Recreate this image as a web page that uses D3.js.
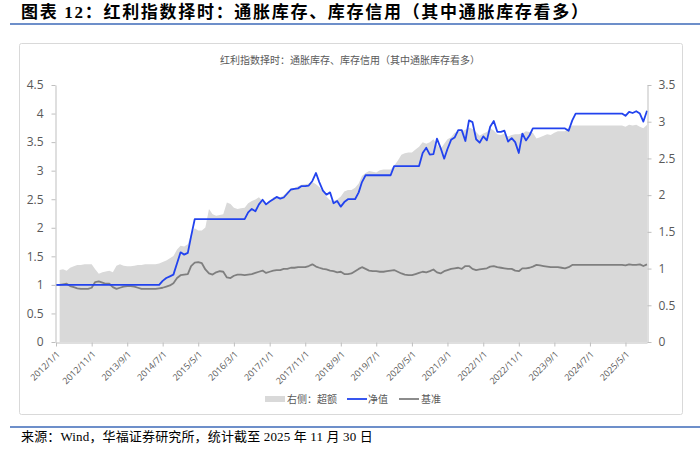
<!DOCTYPE html>
<html>
<head>
<meta charset="utf-8">
<script src="https://cdn.jsdelivr.net/npm/d3@7"></script>
<style>
  html, body { margin: 0; padding: 0; background: #fff; }
  svg { display: block; }
</style>
</head>
<body>
<div id="chart"></div>
<script>
const width = 700;
const height = 456;

const titleText = "图表 12：红利指数择时：通胀库存、库存信用（其中通胀库存看多）";
const chartTitle = "红利指数择时：通胀库存、库存信用（其中通胀库存看多）";
const sourceText = "来源：Wind，华福证券研究所，统计截至 2025 年 11 月 30 日";
const seriesNames = ["右侧：超额", "净值", "基准"];

// monthly points, first one is 2012/1
const firstMonth = "2012-01-01";
const tickLabels = ["2012/1/1", "2012/11/1", "2013/9/1", "2014/7/1", "2015/5/1", "2016/3/1",
    "2017/1/1", "2017/11/1", "2018/9/1", "2019/7/1", "2020/5/1", "2021/3/1", "2022/1/1",
    "2022/11/1", "2023/9/1", "2024/7/1", "2025/5/1"];
const leftTicks = [0, 0.5, 1, 1.5, 2, 2.5, 3, 3.5, 4, 4.5];
const rightTicks = [0, 0.5, 1, 1.5, 2, 2.5, 3, 3.5];

// 净值 (left axis)
const netValue = [
    1.00, 1.00, 1.00, 1.00, 1.00, 1.00, 1.00, 1.00, 1.00, 1.00,
    1.00, 1.00, 1.00, 1.00, 1.00, 1.00, 1.00, 1.00, 1.00, 1.00,
    1.00, 1.00, 1.00, 1.00, 1.00, 1.00, 1.00, 1.00, 1.00, 1.00,
    1.07, 1.12, 1.15, 1.18, 1.38, 1.57, 1.53, 1.56, 1.85, 2.15,
    2.15, 2.15, 2.15, 2.15, 2.15, 2.15, 2.15, 2.15, 2.15, 2.15,
    2.15, 2.15, 2.15, 2.15, 2.27, 2.33, 2.29, 2.41, 2.49, 2.41,
    2.46, 2.50, 2.54, 2.51, 2.53, 2.60, 2.67, 2.68, 2.69, 2.73,
    2.73, 2.74, 2.82, 2.96, 2.80, 2.65, 2.58, 2.62, 2.43, 2.47,
    2.37, 2.45, 2.50, 2.50, 2.50, 2.62, 2.80, 2.92, 2.92, 2.92,
    2.92, 2.92, 2.92, 2.92, 2.92, 3.08, 3.08, 3.08, 3.08, 3.08,
    3.08, 3.08, 3.08, 3.31, 3.40, 3.28, 3.29, 3.56, 3.40, 3.21,
    3.38, 3.54, 3.58, 3.71, 3.71, 3.52, 3.88, 3.85, 3.55, 3.49,
    3.60, 3.53, 3.77, 3.87, 3.68, 3.68, 3.70, 3.51, 3.57, 3.50,
    3.31, 3.65, 3.53, 3.62, 3.74, 3.74, 3.74, 3.74, 3.74, 3.74,
    3.74, 3.74, 3.74, 3.74, 3.70, 3.88, 4.00, 4.00, 4.00, 4.00,
    4.00, 4.00, 4.00, 4.00, 4.00, 4.00, 4.00, 4.00, 4.00, 4.00,
    3.96, 4.03, 4.01, 4.04, 4.00, 3.86, 4.05
];

// 基准 (left axis)
const benchmark = [
    1.00, 1.00, 1.01, 1.02, 0.98, 0.96, 0.94, 0.93, 0.93, 0.93,
    0.95, 1.05, 1.06, 1.04, 1.02, 1.02, 0.96, 0.93, 0.95, 0.97,
    0.98, 0.98, 0.97, 0.95, 0.93, 0.93, 0.93, 0.93, 0.93, 0.94,
    0.95, 0.97, 0.99, 1.03, 1.12, 1.17, 1.18, 1.19, 1.33, 1.39,
    1.40, 1.38, 1.27, 1.20, 1.18, 1.22, 1.24, 1.23, 1.13, 1.12,
    1.16, 1.18, 1.18, 1.17, 1.18, 1.19, 1.21, 1.23, 1.25, 1.21,
    1.23, 1.25, 1.26, 1.26, 1.28, 1.28, 1.30, 1.30, 1.31, 1.31,
    1.31, 1.33, 1.36, 1.32, 1.30, 1.28, 1.27, 1.25, 1.24, 1.22,
    1.23, 1.19, 1.19, 1.20, 1.24, 1.28, 1.31, 1.28, 1.25, 1.24,
    1.24, 1.23, 1.23, 1.24, 1.25, 1.26, 1.23, 1.20, 1.18, 1.17,
    1.17, 1.19, 1.21, 1.23, 1.22, 1.24, 1.27, 1.22, 1.20, 1.24,
    1.26, 1.28, 1.29, 1.30, 1.28, 1.33, 1.33, 1.28, 1.26, 1.27,
    1.28, 1.29, 1.32, 1.33, 1.31, 1.30, 1.29, 1.28, 1.28, 1.25,
    1.24, 1.29, 1.29, 1.30, 1.32, 1.35, 1.34, 1.33, 1.32, 1.31,
    1.31, 1.31, 1.30, 1.29, 1.31, 1.35, 1.35, 1.35, 1.35, 1.35,
    1.35, 1.35, 1.35, 1.35, 1.35, 1.35, 1.35, 1.35, 1.35, 1.35,
    1.34, 1.36, 1.35, 1.35, 1.36, 1.33, 1.36
];

// 超额 (right axis), no value for the first month
const excess = [
    null, 0.98, 0.99, 0.97, 1.01, 1.03, 1.05, 1.05, 1.06, 1.06,
    1.06, 0.99, 0.93, 0.95, 0.96, 0.97, 0.95, 1.04, 1.06, 1.04,
    1.03, 1.03, 1.04, 1.05, 1.05, 1.06, 1.06, 1.06, 1.06, 1.07,
    1.09, 1.11, 1.14, 1.17, 1.26, 1.31, 1.30, 1.33, 1.47, 1.55,
    1.52, 1.52, 1.56, 1.81, 1.74, 1.72, 1.73, 1.74, 1.90, 1.88,
    1.83, 1.81, 1.82, 1.83, 1.89, 1.92, 1.94, 1.97, 1.92, 1.88,
    1.92, 1.97, 1.97, 1.97, 2.00, 2.05, 2.08, 2.10, 2.12, 2.14,
    2.15, 2.16, 2.18, 2.15, 2.11, 2.05, 1.98, 1.93, 1.92, 1.94,
    1.98, 2.05, 2.07, 2.07, 2.10, 2.16, 2.26, 2.30, 2.33, 2.32,
    2.31, 2.34, 2.35, 2.35, 2.35, 2.40, 2.47, 2.55, 2.57, 2.58,
    2.58, 2.62, 2.66, 2.72, 2.70, 2.72, 2.76, 2.69, 2.63, 2.70,
    2.76, 2.79, 2.85, 2.87, 2.87, 2.89, 2.92, 2.90, 2.86, 2.81,
    2.84, 2.86, 2.91, 2.88, 2.83, 2.82, 2.84, 2.80, 2.82, 2.83,
    2.83, 2.84, 2.87, 2.86, 2.85, 2.77, 2.79, 2.81, 2.83, 2.82,
    2.85, 2.87, 2.87, 2.87, 2.92, 2.95, 2.95, 2.95, 2.95, 2.95,
    2.95, 2.95, 2.95, 2.95, 2.95, 2.95, 2.95, 2.95, 2.95, 2.95,
    2.93, 2.96, 2.95, 2.96, 2.93, 2.91, 2.96
];

const colorArea = "#d9d9d9";
const colorNet = "#2243ee";
const colorBench = "#7f7f7f";
const colorText = "#595959";
const colorAxis = "#bfbfbf";
const colorRule = "#6d8fca";

const cjkSans = "'Noto Sans CJK SC', 'Noto Sans', sans-serif";
const cjkSerif = "'Liberation Serif', 'Noto Sans CJK SC', serif";

const start = d3.timeParse("%Y-%m-%d")(firstMonth);
const months = netValue.map((_, i) => d3.timeMonth.offset(start, i));
const tickDates = tickLabels.map(d3.timeParse("%Y/%-m/%-d"));

const x = d3.scaleTime()
    .domain([months[0], months[months.length - 1]])
    .range([56, 647]);
const yLeft = d3.scaleLinear().domain([0, 4.5]).range([342, 85]);
const yRight = d3.scaleLinear().domain([0, 3.5]).range([342, 85]);

const svg = d3.select("#chart")
    .append("svg")
    .attr("width", width)
    .attr("height", height)
    .attr("viewBox", [0, 0, width, height]);

// heading and source
svg.append("text")
    .attr("x", 21)
    .attr("y", 18)
    .attr("font-family", cjkSerif)
    .attr("font-weight", "bold")
    .attr("font-size", 17)
    .attr("letter-spacing", 1.7)
    .attr("fill", "#000")
    .text(titleText);

svg.append("line")
    .attr("x1", 10).attr("x2", width)
    .attr("y1", 24).attr("y2", 24)
    .attr("stroke", colorRule)
    .attr("stroke-width", 2);

svg.append("rect")
    .attr("x", 19.5).attr("y", 43.5)
    .attr("width", 663).attr("height", 371)
    .attr("rx", 2)
    .attr("fill", "#fff")
    .attr("stroke", "#d9d9d9");

svg.append("line")
    .attr("x1", 10).attr("x2", width)
    .attr("y1", 427).attr("y2", 427)
    .attr("stroke", colorRule)
    .attr("stroke-width", 2);

svg.append("text")
    .attr("x", 21)
    .attr("y", 441)
    .attr("font-family", cjkSerif)
    .attr("font-size", 13)
    .attr("letter-spacing", 0.15)
    .attr("fill", "#000")
    .text(sourceText);

svg.append("text")
    .attr("x", 350)
    .attr("y", 64)
    .attr("text-anchor", "middle")
    .attr("font-family", cjkSans)
    .attr("font-size", 10)
    .attr("fill", colorText)
    .text(chartTitle);

// plot
const area = d3.area()
    .defined(d => d != null)
    .x((d, i) => x(months[i]))
    .y0(yRight(0))
    .y1(d => yRight(d));

svg.append("path")
    .datum(excess)
    .attr("fill", colorArea)
    .attr("d", area);

const lineLeft = d3.line()
    .x((d, i) => x(months[i]))
    .y(d => yLeft(d));

svg.append("path")
    .datum(benchmark)
    .attr("fill", "none")
    .attr("stroke", colorBench)
    .attr("stroke-width", 1.8)
    .attr("stroke-linejoin", "round")
    .attr("d", lineLeft);

svg.append("path")
    .datum(netValue)
    .attr("fill", "none")
    .attr("stroke", colorNet)
    .attr("stroke-width", 1.8)
    .attr("stroke-linejoin", "round")
    .attr("d", lineLeft);

// axes
function styleAxis(g, size) {
    g.select(".domain").attr("stroke", colorAxis);
    g.selectAll(".tick line").attr("stroke", colorAxis);
    g.selectAll(".tick text")
        .attr("fill", colorText)
        .attr("font-family", "'Open Sans', 'Noto Sans', sans-serif")
        .attr("font-size", size);
}

svg.append("g")
    .attr("transform", "translate(55.5,0)")
    .call(d3.axisLeft(yLeft).tickValues(leftTicks).tickSize(4).tickSizeOuter(0).tickPadding(8).tickFormat(d => d))
    .call(g => styleAxis(g, 12));

svg.append("g")
    .attr("transform", "translate(647.5,0)")
    .call(d3.axisRight(yRight).tickValues(rightTicks).tickSize(4).tickSizeOuter(0).tickPadding(7).tickFormat(d => d))
    .call(g => styleAxis(g, 12));

svg.append("g")
    .attr("transform", "translate(0,342.5)")
    .call(d3.axisBottom(x).tickValues(tickDates).tickSize(4).tickSizeOuter(0).tickFormat(d3.timeFormat("%Y/%-m/%-d")))
    .call(g => styleAxis(g, 9))
    .call(g => g.selectAll(".tick text")
        .attr("x", 0)
        .attr("y", 0)
        .attr("dy", "0.35em")
        .attr("text-anchor", "end")
        .attr("transform", "translate(2,10) rotate(-45)"));

// legend
const legend = svg.append("g")
    .attr("font-family", cjkSans)
    .attr("font-size", 10)
    .attr("fill", colorText);

legend.append("rect")
    .attr("x", 265).attr("y", 396)
    .attr("width", 20).attr("height", 6)
    .attr("fill", colorArea);
legend.append("text").attr("x", 287).attr("y", 402.5).text(seriesNames[0]);

legend.append("line")
    .attr("x1", 347).attr("x2", 367)
    .attr("y1", 399).attr("y2", 399)
    .attr("stroke", colorNet).attr("stroke-width", 1.8);
legend.append("text").attr("x", 368).attr("y", 402.5).text(seriesNames[1]);

legend.append("line")
    .attr("x1", 399).attr("x2", 419)
    .attr("y1", 399).attr("y2", 399)
    .attr("stroke", colorBench).attr("stroke-width", 1.8);
legend.append("text").attr("x", 421).attr("y", 402.5).text(seriesNames[2]);
</script>
</body>
</html>
